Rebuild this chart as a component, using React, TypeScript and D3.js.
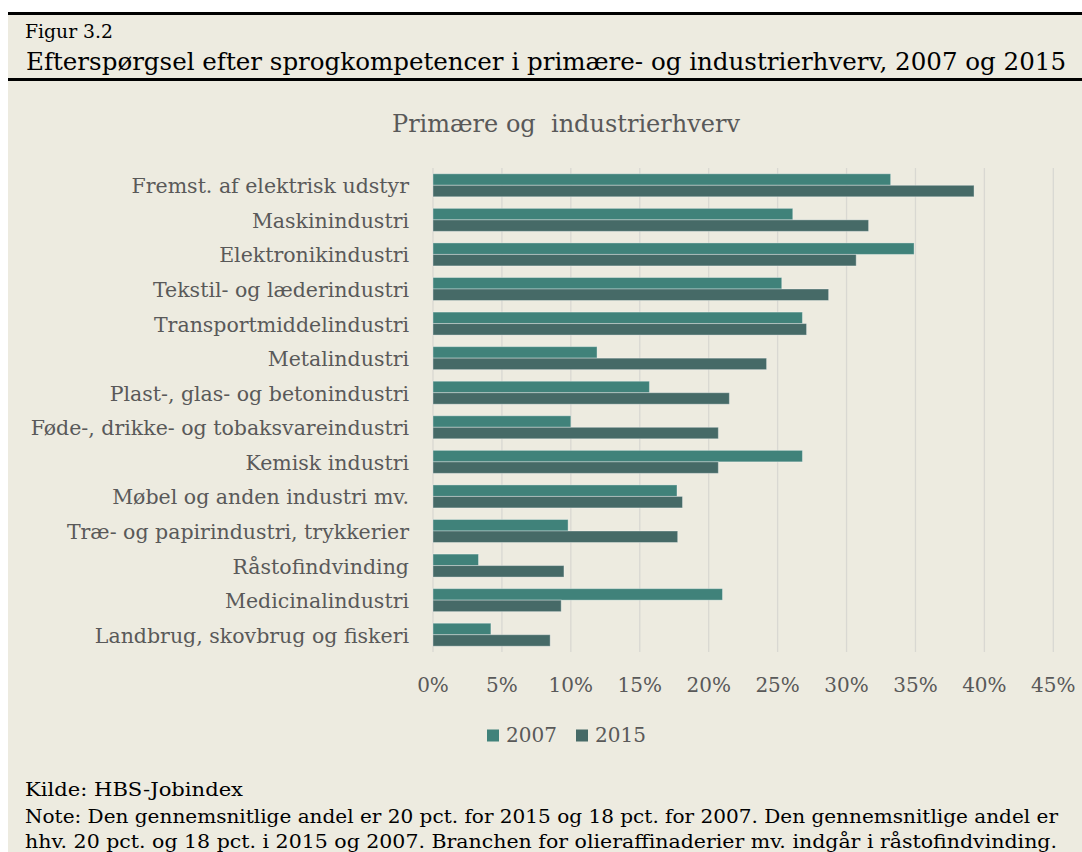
import React from "react";
import * as d3 from "d3";

const categories = [
  "Fremst. af elektrisk udstyr",
  "Maskinindustri",
  "Elektronikindustri",
  "Tekstil- og læderindustri",
  "Transportmiddelindustri",
  "Metalindustri",
  "Plast-, glas- og betonindustri",
  "Føde-, drikke- og tobaksvareindustri",
  "Kemisk industri",
  "Møbel og anden industri mv.",
  "Træ- og papirindustri, trykkerier",
  "Råstofindvinding",
  "Medicinalindustri",
  "Landbrug, skovbrug og fiskeri",
];

const values2007 = [33.2, 26.1, 34.9, 25.3, 26.8, 11.9, 15.7, 10.0, 26.8, 17.7, 9.8, 3.3, 21.0, 4.2];
const values2015 = [39.25, 31.6, 30.7, 28.7, 27.1, 24.2, 21.5, 20.7, 20.7, 18.1, 17.75, 9.5, 9.3, 8.5];

const seriesNames = ["2007", "2015"];
const seriesColors = ["#40827A", "#466A67"];
const xTicks = [0, 5, 10, 15, 20, 25, 30, 35, 40, 45];

const figLabel = "Figur 3.2";
const mainTitle = "Efterspørgsel efter sprogkompetencer i primære- og industrierhverv, 2007 og 2015";
const chartTitle = "Primære og  industrierhverv";
const sourceText = "Kilde: HBS-Jobindex";
const noteLine1 = "Note: Den gennemsnitlige andel er 20 pct. for 2015 og 18 pct. for 2007. Den gennemsnitlige andel er";
const noteLine2 = "hhv. 20 pct. og 18 pct. i 2015 og 2007. Branchen for olieraffinaderier mv. indgår i råstofindvinding.";

const FONT = "'DejaVu Serif', serif";
const GRAY = "#595959";

export default function App() {
  const W = 1082;
  const H = 852;
  const x = d3.scaleLinear().domain([0, 45]).range([433, 1053.3]);
  const y = d3
    .scaleBand<string>()
    .domain(categories)
    .range([168, 652])
    .paddingInner(0.335)
    .paddingOuter(0.1675);
  const sub = d3.scaleBand<string>().domain(seriesNames).range([0, y.bandwidth()]);
  const series = [values2007, values2015];

  return (
    <svg
      width={W}
      height={H}
      style={{ position: "absolute", left: 0, top: 0, display: "block" }}
      fontFamily={FONT}
    >
      <rect x={0} y={0} width={W} height={H} fill="#ffffff" />
      <rect x={8} y={12} width={W - 8} height={H - 12} fill="#EDEBE0" />
      <rect x={8} y={12} width={W - 8} height={3} fill="#000" />
      <text x={25} y={38} fontSize={19} fill="#000" textLength={88} lengthAdjust="spacingAndGlyphs">
        {figLabel}
      </text>
      <text x={26} y={70} fontSize={24} fill="#000" textLength={1040} lengthAdjust="spacingAndGlyphs">
        {mainTitle}
      </text>
      <rect x={8} y={78} width={W - 8} height={3} fill="#000" />

      <text
        x={566}
        y={132}
        fontSize={24}
        fill={GRAY}
        textAnchor="middle"
        style={{ whiteSpace: "pre" }}
      >
        {chartTitle}
      </text>

      {xTicks.map((t) => (
        <line
          key={"g" + t}
          x1={x(t)}
          x2={x(t)}
          y1={168}
          y2={652}
          stroke="#D9D8D2"
          strokeWidth={1.3}
        />
      ))}

      {categories.map((c, i) => (
        <g key={c}>
          {series.map((vals, s) => (
            <rect
              key={s}
              x={x(0)}
              y={(y(c) as number) + (sub(seriesNames[s]) as number)}
              width={x(vals[i]) - x(0)}
              height={sub.bandwidth()}
              fill={seriesColors[s]}
              stroke="rgba(255,255,255,0.35)"
              strokeWidth={1}
            />
          ))}
          <text
            x={409}
            y={(y(c) as number) + y.bandwidth() / 2 + 8}
            fontSize={20.5}
            fill={GRAY}
            textAnchor="end"
          >
            {c}
          </text>
        </g>
      ))}

      {xTicks.map((t) => (
        <text key={"t" + t} x={x(t)} y={692} fontSize={20} fill={GRAY} textAnchor="middle">
          {t + "%"}
        </text>
      ))}

      {seriesNames.map((s, i) => {
        const lx = i === 0 ? 487 : 576;
        return (
          <g key={s}>
            <rect x={lx} y={729.5} width={12} height={12} fill={seriesColors[i]} />
            <text x={lx + 19} y={742} fontSize={20} fill={GRAY}>
              {s}
            </text>
          </g>
        );
      })}

      <text x={25} y={796} fontSize={19} fill="#000" textLength={218} lengthAdjust="spacingAndGlyphs">
        {sourceText}
      </text>
      <text x={25} y={823} fontSize={19} fill="#000" textLength={1033} lengthAdjust="spacingAndGlyphs">
        {noteLine1}
      </text>
      <text x={25} y={848} fontSize={19} fill="#000" textLength={1032} lengthAdjust="spacingAndGlyphs">
        {noteLine2}
      </text>
    </svg>
  );
}
